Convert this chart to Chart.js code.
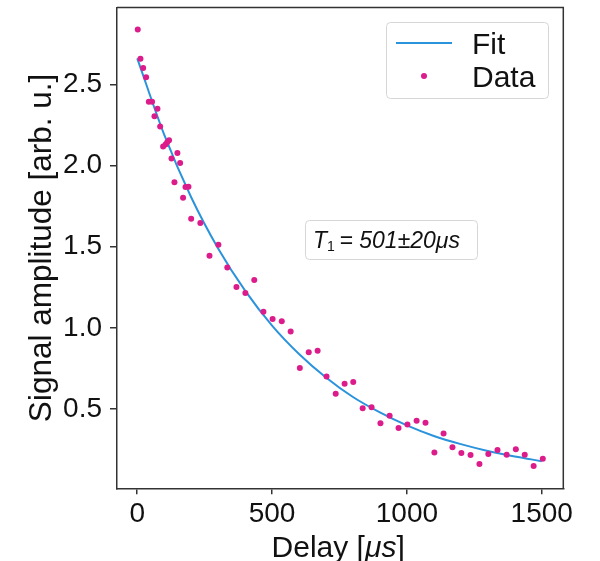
<!DOCTYPE html>
<html>
<head>
<meta charset="utf-8">
<script src="https://cdn.jsdelivr.net/npm/chart.js@4.4.1/dist/chart.umd.min.js"></script>
<style>
  html, body { margin: 0; padding: 0; background: #fff; }
  #wrap { width: 600px; height: 561px; }
</style>
</head>
<body>
<div id="wrap"><canvas id="t1_graph" width="600" height="561"></canvas></div>
<script>
// measured points
let delays = [2, 12, 22, 33, 43, 55, 64, 75, 85, 96, 105, 111, 118, 127, 138, 149, 159, 170, 179, 190,
  200, 234, 268, 301, 334, 368, 401, 434, 468, 502, 536, 569, 603, 636, 669, 702, 736, 769, 801, 836,
  869, 902, 936, 969, 1002, 1036, 1069, 1102, 1136, 1169, 1202, 1236, 1269, 1302, 1336, 1370, 1404, 1437, 1470, 1504];
let amplitudes = [2.837, 2.658, 2.601, 2.543, 2.392, 2.393, 2.303, 2.349, 2.241, 2.118, 2.129, 2.143, 2.155, 2.043, 1.897, 2.078, 2.016, 1.802, 1.868, 1.870,
  1.673, 1.647, 1.445, 1.512, 1.373, 1.252, 1.216, 1.296, 1.100, 1.055, 1.041, 0.979, 0.754, 0.850, 0.860, 0.702, 0.595, 0.657, 0.667, 0.506,
  0.512, 0.413, 0.460, 0.385, 0.406, 0.429, 0.417, 0.234, 0.351, 0.265, 0.230, 0.218, 0.163, 0.224, 0.249, 0.220, 0.253, 0.220, 0.150, 0.195];

// fit curve
let fitDelays = [0, 100, 200, 300, 400, 500, 600, 700, 800, 900, 1000, 1100, 1200, 1300, 1400, 1500];
let fitValues = [2.66, 2.19, 1.805, 1.49, 1.23, 1.015, 0.84, 0.695, 0.575, 0.48, 0.40, 0.335, 0.285, 0.243, 0.209, 0.18];

let xTicks = [0, 500, 1000, 1500];
let yTicks = [0.5, 1.0, 1.5, 2.0, 2.5];

let fitLabel = 'Fit';
let dataLabel = 'Data';

let toPoints = function (xs, ys) {
  return xs.map(function (x, i) { return { x: x, y: ys[i] }; });
};

let fontName = '"Liberation Sans", Arial, sans-serif';
let axisColor = '#333';
let textColor = '#111';
let fitColor = '#2b93db';
let dotColor = '#dd1c8b';

// рисуем строку из кусков с разными шрифтами
let drawParts = function (c, parts, x, base) {
  parts.forEach(function (p) {
    c.font = p.font;
    c.fillText(p.text, x, base + (p.dy || 0));
    x += c.measureText(p.text).width + (p.gap || 0);
  });
};
let partsWidth = function (c, parts) {
  let w = 0;
  parts.forEach(function (p) {
    c.font = p.font;
    w += c.measureText(p.text).width + (p.gap || 0);
  });
  return w;
};

// рамка, подпись оси x, легенда и подпись T1
let extras = {
  id: 'extras',
  afterDraw: function (chart) {
    let c = chart.ctx;
    let a = chart.chartArea;
    c.save();
    c.strokeStyle = axisColor;
    c.lineWidth = 1.5;
    c.beginPath();
    c.moveTo(a.left, a.top);
    c.lineTo(a.right, a.top);
    c.lineTo(a.right, a.bottom);
    c.stroke();

    c.fillStyle = textColor;
    c.textBaseline = 'alphabetic';

    // x axis title
    let xTitle = [
      { text: 'Delay [', font: '30px ' + fontName },
      { text: 'μs', font: 'italic 30px ' + fontName },
      { text: ']', font: '30px ' + fontName }
    ];
    drawParts(c, xTitle, (a.left + a.right) / 2 - 2 - partsWidth(c, xTitle) / 2, 556.5);

    let box = function (x, y, w, h) {
      c.beginPath();
      c.roundRect(x, y, w, h, 4);
      c.fillStyle = 'rgba(255,255,255,0.85)';
      c.fill();
      c.strokeStyle = '#d6d6d6';
      c.lineWidth = 1;
      c.stroke();
    };

    // legend
    box(386.5, 22.5, 162, 76);
    c.strokeStyle = fitColor;
    c.lineWidth = 2;
    c.beginPath();
    c.moveTo(396, 43);
    c.lineTo(452, 43);
    c.stroke();
    c.fillStyle = dotColor;
    c.beginPath();
    c.arc(424, 76, 3, 0, Math.PI * 2);
    c.fill();
    c.fillStyle = textColor;
    c.font = '30px ' + fontName;
    c.fillText(fitLabel, 472, 53.5);
    c.fillText(dataLabel, 472, 86.5);

    // T1 annotation
    box(305.5, 220.5, 172, 39);
    c.fillStyle = textColor;
    drawParts(c, [
      { text: 'T', font: 'italic 23px ' + fontName },
      { text: '1', font: '14px ' + fontName, dy: 3, gap: 5 },
      { text: '=', font: '23px ' + fontName, gap: 6 },
      { text: '501±20μs', font: 'italic 23px ' + fontName }
    ], 313, 248);
    c.restore();
  }
};

let ctx = document.getElementById('t1_graph').getContext('2d');
let chart = new Chart(ctx, {
  type: 'scatter',
  data: {
    datasets: [{
      label: dataLabel,
      data: toPoints(delays, amplitudes),
      pointRadius: 3,
      pointHoverRadius: 3,
      pointBorderWidth: 0,
      backgroundColor: dotColor,
      borderColor: dotColor,
      order: 0
    }, {
      label: fitLabel,
      data: toPoints(fitDelays, fitValues),
      showLine: true,
      pointRadius: 0,
      borderColor: fitColor,
      borderWidth: 2,
      cubicInterpolationMode: 'monotone',
      order: 1
    }]
  },
  options: {
    responsive: false,
    animation: false,
    events: [],
    layout: { padding: { top: 7.5, right: 36.7, left: 0, bottom: 0 } },
    plugins: { legend: { display: false }, tooltip: { enabled: false } },
    scales: {
      x: {
        type: 'linear',
        min: -75,
        max: 1580,
        afterFit: function (s) {
          s.height = 72.7;
          s.paddingLeft = 0;
          s.paddingRight = 0;
        },
        afterBuildTicks: function (s) { s.ticks = xTicks.map(function (v) { return { value: v }; }); },
        grid: { drawOnChartArea: false, drawTicks: true, tickLength: 6, color: axisColor, lineWidth: 1.5 },
        border: { color: axisColor, width: 1.5 },
        ticks: {
          color: textColor,
          padding: 3,
          font: { size: 28, family: fontName },
          callback: function (v) { return String(v); }
        }
      },
      y: {
        type: 'linear',
        min: 0.013,
        max: 2.973,
        afterFit: function (s) {
          s.width = 117;
          s.paddingTop = 0;
          s.paddingBottom = 0;
        },
        afterBuildTicks: function (s) { s.ticks = yTicks.map(function (v) { return { value: v }; }); },
        grid: { drawOnChartArea: false, drawTicks: true, tickLength: 7, color: axisColor, lineWidth: 1.5 },
        border: { color: axisColor, width: 1.5 },
        ticks: {
          color: textColor,
          padding: 8,
          font: { size: 28, family: fontName },
          callback: function (v) { return v.toFixed(1); }
        },
        title: {
          display: true,
          text: 'Signal amplitude [arb. u.]',
          color: textColor,
          padding: { top: 23, bottom: 0 },
          font: { size: 31.5, family: fontName }
        }
      }
    }
  },
  plugins: [extras]
});
</script>
</body>
</html>
